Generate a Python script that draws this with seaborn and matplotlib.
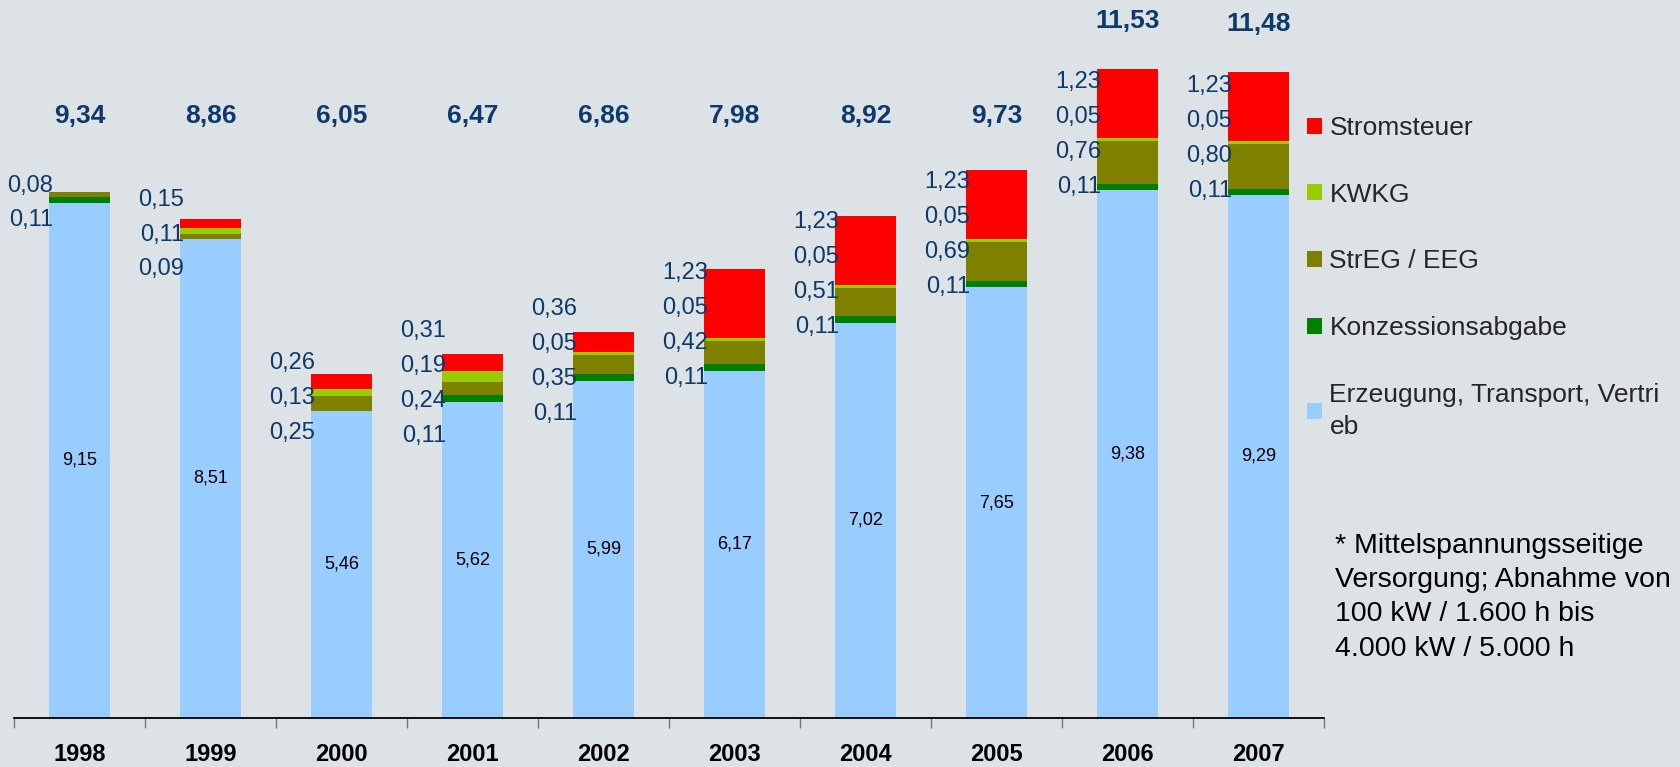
import numpy as np
import pandas as pd
import seaborn as sns
import matplotlib.pyplot as plt
from matplotlib.patches import Patch

# --- data (ct/kWh) ---
years = ['1998', '1999', '2000', '2001', '2002', '2003', '2004', '2005', '2006', '2007']
erzeugung = [9.15, 8.51, 5.46, 5.62, 5.99, 6.17, 7.02, 7.65, 9.38, 9.29]
konzession = [0.11, 0.00, 0.00, 0.11, 0.11, 0.11, 0.11, 0.11, 0.11, 0.11]
eeg = [0.08, 0.09, 0.25, 0.24, 0.35, 0.42, 0.51, 0.69, 0.76, 0.80]
kwkg = [0.00, 0.11, 0.13, 0.19, 0.05, 0.05, 0.05, 0.05, 0.05, 0.05]
stromsteuer = [0.00, 0.15, 0.26, 0.31, 0.36, 1.23, 1.23, 1.23, 1.23, 1.23]
totals = [9.34, 8.86, 6.05, 6.47, 6.86, 7.98, 8.92, 9.73, 11.53, 11.48]

series_names = ['Erzeugung, Transport, Vertri\neb', 'Konzessionsabgabe', 'StrEG / EEG', 'KWKG', 'Stromsteuer']
series_values = [erzeugung, konzession, eeg, kwkg, stromsteuer]
series_colors = ['#99ccff', '#008000', '#808000', '#99cc00', '#ff0000']

footnote = ('* Mittelspannungsseitige\nVersorgung; Abnahme von\n'
            '100 kW / 1.600 h bis\n4.000 kW / 5.000 h')

NAVY = '#0d3a6a'
BG = '#dde2e6'


def de(v):
    return f'{v:.2f}'.replace('.', ',')


def main():
    sns.set_theme(style='white')
    plt.rcParams['font.family'] = ['Liberation Sans', 'DejaVu Sans']
    plt.rcParams['figure.facecolor'] = BG
    plt.rcParams['axes.facecolor'] = BG

    df = pd.DataFrame({'year': years})
    for name, vals in zip(series_names, series_values):
        df[name] = vals

    fig = plt.figure(figsize=(16.8, 7.67), dpi=100)
    ax = fig.add_axes([14 / 1680, 49 / 767, 1310 / 1680, 718 / 767])

    bottom = np.zeros(len(years))
    for name, color in zip(series_names, series_colors):
        sns.barplot(data=df, x='year', y=name, order=years, color=color,
                    saturation=1, width=0.47, bottom=bottom.copy(),
                    linewidth=0, errorbar=None, ax=ax)
        bottom += df[name].values

    # value labels
    sp = 0.62
    for i in range(len(years)):
        base = erzeugung[i]
        ax.text(i, base / 2, de(base), ha='center', va='center', fontsize=13, color='black')
        upper = [v[i] for v in (stromsteuer, kwkg, eeg, konzession) if v[i] > 0]
        n = len(upper)
        mid = (base + base + sum(upper)) / 2 - 0.1
        for k, v in enumerate(upper):
            y = mid + (n - 1) / 2 * sp - k * sp
            ax.text(i - 0.2, y, de(v), ha='right', va='center', fontsize=17, color=NAVY)
        ax.text(i, max(totals[i] + 0.84, 10.69), de(totals[i]), ha='center', va='center',
                fontsize=19, fontweight='bold', color=NAVY)

    ax.set_xlim(-0.5, len(years) - 0.5)
    ax.set_ylim(0, 12.75)
    ax.set_xlabel('')
    ax.set_ylabel('')
    ax.set_yticks([])
    ax.set_xticks(range(len(years)))
    ax.set_xticklabels(years, fontsize=17, fontweight='bold', color='black')
    ax.set_xticks(np.arange(-0.5, len(years), 1), minor=True)
    ax.tick_params(axis='x', which='major', length=0, pad=18)
    ax.tick_params(axis='x', which='minor', length=7, width=1, color='#777777', bottom=True)
    sns.despine(ax=ax, left=True)
    ax.spines['bottom'].set_color('black')
    ax.spines['bottom'].set_linewidth(1.3)

    handles = [Patch(facecolor=c, edgecolor='none') for c in series_colors][::-1]
    leg = fig.legend(handles, series_names[::-1], loc='upper left',
                     bbox_to_anchor=(1307 / 1680, 1 - 116 / 767), frameon=False,
                     fontsize=19, handlelength=0.55, handleheight=0.55, handletextpad=0.3,
                     labelspacing=1.62, borderpad=0, borderaxespad=0)
    for t in leg.get_texts():
        t.set_linespacing(1.42)

    fig.text(1335 / 1680, 1 - 533 / 767, footnote, ha='left', va='top',
             fontsize=20.5, color='black', linespacing=1.41)

    fig.savefig('out.png', dpi=100, facecolor=BG)


if __name__ == '__main__':
    main()
